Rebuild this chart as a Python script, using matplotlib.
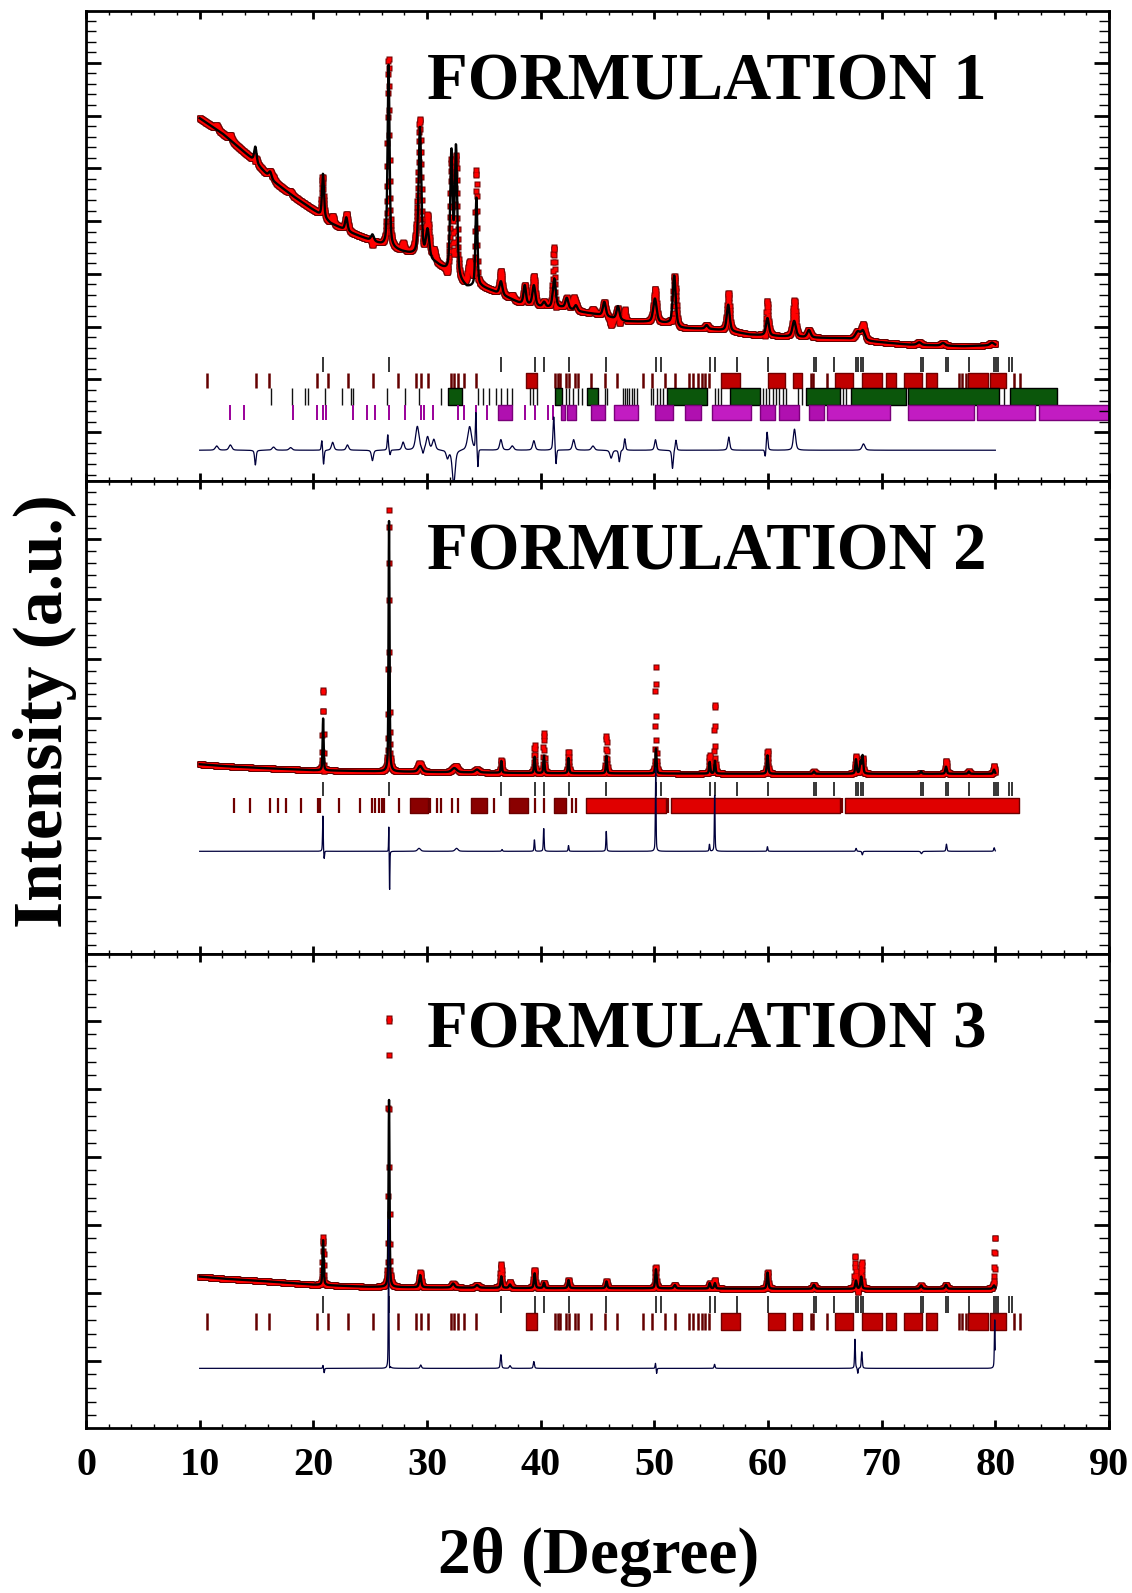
import numpy as np
import matplotlib
matplotlib.use("Agg")
import matplotlib.pyplot as plt
from matplotlib.ticker import MultipleLocator, AutoMinorLocator

plt.rcParams['font.family'] = ['Liberation Serif', 'DejaVu Serif']
plt.rcParams['font.weight'] = 'bold'

# ---------------------------------------------------------------- scan grid
scan_start, scan_end, scan_step = 10.0, 80.0, 0.02

# ---------------------------------------------------------------- axis ticks
x_major_ticks = [0, 10, 20, 30, 40, 50, 60, 70, 80, 90]
x_tick_labels = ['0', '10', '20', '30', '40', '50', '60', '70', '80', '90']
panel_titles = ['FORMULATION 1', 'FORMULATION 2', 'FORMULATION 3']

# ---------------------------------------------------------------- FORMULATION 1
f1_bg_2theta = [10, 12, 14.5, 16.5, 18.3, 20.2, 21.5, 23.4, 26.0, 27.8, 28.8, 30.7, 31.5,
                33.5, 34.8, 35.7, 37.2, 38.1, 40.3, 41.9, 43.5, 45.0, 47.5, 49.4, 51.3,
                52.3, 54.5, 56.1, 58.4, 61.0, 64.2, 66.8, 69.1, 72.4, 77.2, 80.0]
f1_bg_int = [5.95, 5.66, 5.2, 4.75, 4.46, 4.18, 3.96, 3.77, 3.55, 3.42, 3.36, 3.2, 3.08,
             2.74, 2.75, 2.68, 2.54, 2.45, 2.36, 2.36, 2.28, 2.23, 2.1, 2.09, 2.06,
             1.97, 1.96, 1.93, 1.85, 1.82, 1.79, 1.78, 1.72, 1.66, 1.63, 1.65]
f1_peak_pos = [14.9, 16.2, 20.85, 22.9, 25.2, 26.62, 29.38, 30.05, 32.15, 32.55, 34.35,
               36.5, 38.6, 39.4, 40.3, 41.2, 42.3, 43.1, 45.6, 46.8, 50.05, 51.75, 54.6,
               56.5, 59.95, 62.3, 63.6, 67.9, 68.35, 73.3, 75.4, 79.7]
f1_peak_height = [0.3, 0.12, 0.83, 0.25, 0.12, 3.45, 2.45, 0.55, 2.3, 2.45, 1.7,
                  0.25, 0.35, 0.38, 0.1, 0.55, 0.2, 0.1, 0.27, 0.25, 0.45, 0.95, 0.07,
                  0.5, 0.33, 0.3, 0.14, 0.15, 0.17, 0.05, 0.05, 0.05]
f1_peak_fwhm = [0.25, 0.3, 0.2, 0.25, 0.3, 0.2, 0.28, 0.35, 0.25, 0.25, 0.2,
                0.3, 0.25, 0.3, 0.3, 0.3, 0.3, 0.3, 0.3, 0.3, 0.35, 0.3, 0.3,
                0.3, 0.3, 0.35, 0.35, 0.5, 0.4, 0.4, 0.4, 0.4]
f1_misfit_pos = [11.5, 12.7, 14.9, 16.5, 18.0, 20.75, 20.9, 21.7, 23.0, 25.2, 26.55, 26.75,
                 27.9, 29.15, 29.65, 30.05, 30.6, 31.8, 32.35, 33.75, 34.3, 34.48, 36.5,
                 37.5, 39.4, 41.15, 41.35, 42.9, 44.6, 46.2, 46.92, 47.4, 50.1, 51.6, 51.9,
                 56.55, 59.76, 59.92, 62.33, 68.4]
f1_misfit_amp = [0.08, 0.1, -0.28, 0.06, 0.05, 0.2, -0.28, 0.15, 0.1, -0.2, 0.3, -0.1,
                 0.15, 0.45, -0.1, 0.25, 0.2, -0.15, -0.65, 0.45, 0.7, -0.35, 0.2,
                 0.08, 0.18, 0.65, -0.3, 0.2, 0.08, -0.15, -0.22, 0.22, 0.2, -0.35, 0.2,
                 0.25, -0.15, 0.35, 0.4, 0.12]
f1_misfit_fwhm = [0.3, 0.3, 0.15, 0.3, 0.3, 0.12, 0.12, 0.25, 0.25, 0.2, 0.12, 0.12,
                  0.25, 0.35, 0.15, 0.3, 0.3, 0.25, 0.3, 0.4, 0.1, 0.1, 0.25,
                  0.3, 0.25, 0.15, 0.12, 0.25, 0.3, 0.25, 0.15, 0.15, 0.2, 0.15, 0.15,
                  0.2, 0.12, 0.15, 0.25, 0.3]

# ---------------------------------------------------------------- FORMULATION 2
f2_bg_2theta = [10, 12, 15, 20, 26, 30, 40, 60, 80]
f2_bg_int = [2.23, 2.2, 2.17, 2.13, 2.11, 2.1, 2.08, 2.07, 2.07]
f2_peak_pos = [20.86, 26.66, 29.4, 32.4, 34.4, 36.54, 39.47, 40.29, 42.45, 45.79, 50.14,
               54.87, 55.33, 59.96, 64.04, 67.74, 68.14, 68.32, 73.47, 75.66, 77.67, 79.88]
f2_peak_height = [0.87, 4.2, 0.1, 0.07, 0.05, 0.2, 0.28, 0.3, 0.26, 0.3, 0.42,
                  0.2, 0.22, 0.31, 0.04, 0.24, 0.2, 0.3, 0.04, 0.12, 0.04, 0.07]
f2_peak_fwhm = [0.1, 0.1, 0.4, 0.5, 0.4, 0.12, 0.12, 0.12, 0.12, 0.12, 0.12,
                0.12, 0.12, 0.14, 0.15, 0.14, 0.14, 0.14, 0.15, 0.15, 0.15, 0.15]
f2_misfit_pos = [20.84, 20.95, 26.64, 26.71, 29.3, 32.6, 36.6, 39.45, 40.27, 42.45, 45.77,
                 50.12, 54.85, 55.31, 59.95, 67.75, 68.3, 73.5, 75.7, 79.9]
f2_misfit_amp = [0.6, -0.15, 0.45, -0.75, 0.05, 0.05, 0.03, 0.2, 0.4, 0.1, 0.35,
                 1.4, 0.12, 1.0, 0.08, 0.05, -0.06, -0.04, 0.12, 0.06]
f2_misfit_fwhm = [0.07, 0.08, 0.05, 0.05, 0.3, 0.3, 0.1, 0.08, 0.08, 0.08, 0.08,
                  0.07, 0.08, 0.07, 0.08, 0.1, 0.1, 0.15, 0.1, 0.1]

# ---------------------------------------------------------------- FORMULATION 3
f3_bg_2theta = [10, 12, 15, 20, 24.6, 30, 40, 46.6, 60, 80]
f3_bg_int = [1.24, 1.21, 1.18, 1.12, 1.09, 1.08, 1.07, 1.07, 1.06, 1.06]
f3_peak_pos = [20.86, 26.66, 29.4, 32.3, 34.4, 36.54, 37.3, 39.47, 40.29, 42.45, 45.79,
               50.14, 51.8, 54.87, 55.33, 59.96, 64.04, 67.74, 68.2, 73.47, 75.66, 79.88]
f3_peak_height = [0.66, 2.75, 0.18, 0.06, 0.04, 0.17, 0.05, 0.22, 0.08, 0.12, 0.1,
                  0.28, 0.05, 0.08, 0.08, 0.24, 0.06, 0.12, 0.18, 0.05, 0.06, 0.05]
f3_peak_fwhm = [0.12, 0.1, 0.2, 0.3, 0.3, 0.15, 0.2, 0.15, 0.15, 0.15, 0.15,
                0.15, 0.2, 0.15, 0.15, 0.15, 0.2, 0.15, 0.15, 0.2, 0.2, 0.2]
f3_misfit_pos = [20.85, 20.95, 26.62, 26.7, 29.45, 36.5, 37.3, 39.4, 50.1, 50.2, 55.3,
                 67.65, 67.9, 68.25, 79.95]
f3_misfit_amp = [0.05, -0.07, 2.2, -0.1, 0.05, 0.2, 0.04, 0.1, 0.08, -0.08, 0.06,
                 0.45, -0.08, 0.25, 0.75]
f3_misfit_fwhm = [0.08, 0.08, 0.06, 0.08, 0.15, 0.12, 0.15, 0.12, 0.08, 0.08, 0.1,
                  0.08, 0.08, 0.1, 0.08]

# ---------------------------------------------------------------- Bragg reflections
phase_a_ticks = [20.86, 26.64, 36.54, 39.47, 40.29, 42.45, 45.79, 50.14, 50.62, 54.87,
                 55.33, 57.24, 59.96, 64.04, 64.2, 65.79, 67.74, 67.9, 68.14, 68.32,
                 73.47, 73.6, 75.66, 75.85, 77.67, 79.88, 80.05, 80.25, 81.2, 81.5]

phase_b_ticks = [10.62, 14.96, 16.12, 20.36, 21.3, 23.03, 25.23, 27.43, 29.0, 29.47, 30.1,
                 32.14, 32.39, 32.77, 33.24, 34.34, 41.25, 41.5, 41.72, 42.19, 42.5,
                 42.98, 43.29, 44.45, 45.7, 46.75, 49.0, 49.8, 50.9, 51.8, 53.02, 53.41,
                 53.82, 54.15, 54.47, 54.79, 63.8, 64.0, 65.2, 76.8, 77.1, 77.4, 81.6, 82.2]
phase_b_blocks = [(38.73, 39.68), (55.9, 57.5), (60.0, 61.5), (62.2, 63.0), (65.9, 67.45),
                  (68.3, 70.0), (70.35, 71.3), (71.95, 73.55), (73.9, 74.85),
                  (77.6, 79.35), (79.5, 80.95)]

phase_c_ticks = [16.28, 18.16, 19.26, 19.57, 20.99, 22.56, 23.35, 23.5, 26.48, 28.05,
                 29.31, 31.2, 34.49, 34.97, 35.44, 36.06, 36.54, 37.01, 37.48, 39.05,
                 39.36, 39.68, 42.19, 42.5, 42.82, 43.29, 43.6, 45.64, 45.8, 47.2, 47.4,
                 47.6, 47.8, 48.0, 48.2, 48.45, 49.7, 49.9, 50.2, 50.5, 50.8, 55.3, 55.6,
                 55.9, 59.6, 59.85, 60.1, 60.4, 60.7, 61.0, 61.3, 61.6, 62.65, 62.95,
                 66.6, 66.9, 80.8]
phase_c_blocks = [(31.82, 33.08), (41.25, 41.88), (44.07, 45.02), (51.1, 54.6),
                  (56.7, 59.3), (63.3, 66.3), (67.3, 72.1), (72.3, 80.3), (81.3, 85.4)]

phase_d_ticks = [12.67, 13.92, 18.22, 20.36, 20.83, 21.14, 23.5, 24.76, 25.39, 26.64,
                 28.05, 29.47, 29.78, 30.57, 32.77, 33.24, 34.34, 35.28, 38.58, 39.52,
                 40.62, 41.09]
phase_d_blocks = [(36.22, 37.48), (41.75, 42.1), (42.35, 43.13), (44.39, 45.64),
                  (46.43, 48.6), (50.1, 51.6), (52.7, 54.1), (55.1, 58.5), (59.3, 60.6),
                  (61.0, 62.7), (63.6, 64.9), (65.2, 70.7), (72.3, 78.1), (78.4, 83.5),
                  (83.8, 90.0)]

phase_e_ticks = [13.0, 14.45, 16.2, 16.9, 17.6, 18.9, 20.4, 20.6, 22.3, 24.1, 25.2, 25.4,
                 25.8, 26.0, 26.2, 27.5, 30.3, 30.9, 31.2, 32.2, 32.7, 35.9, 39.5, 40.3,
                 42.8, 43.1, 51.2, 66.5]
phase_e_blocks = [(28.5, 30.1), (33.9, 35.3), (37.2, 38.9), (41.2, 42.2), (44.0, 51.0),
                  (51.45, 66.35), (66.75, 82.1)]


def pseudo_voigt(x, centre, height, fwhm, eta=0.5):
    u = (x - centre) / (fwhm / 2.0)
    return height * (eta / (1.0 + u ** 2) + (1.0 - eta) * np.exp(-np.log(2.0) * u ** 2))


def peak_sum(x, pos, amp, fwhm):
    total = np.zeros_like(x)
    for c, a, w in zip(pos, amp, fwhm):
        total += pseudo_voigt(x, c, a, w)
    return total


two_theta = np.arange(scan_start, scan_end + scan_step / 2, scan_step)

# row: (ticks, blocks, y0, y1, tick colour, wide-block face, narrow-block face, edge, tick width)
panels = [
    dict(bg=(f1_bg_2theta, f1_bg_int), peaks=(f1_peak_pos, f1_peak_height, f1_peak_fwhm),
         misfit=(f1_misfit_pos, f1_misfit_amp, f1_misfit_fwhm), diff_offset=-0.34,
         ylim=(-0.923, 7.98),
         rows=[(phase_a_ticks, [], 1.15, 1.43, 'k', None, None, None, 1.1),
               (phase_b_ticks, phase_b_blocks, 0.84, 1.12, '#640000', '#e80000', '#c00000', '#700000', 1.8),
               (phase_c_ticks, phase_c_blocks, 0.52, 0.84, '#111111', '#0b560b', '#0b560b', '#000000', 1.0),
               (phase_d_ticks, phase_d_blocks, 0.24, 0.52, '#9a009a', '#c21cc2', '#b010b0', '#7a007a', 1.4)]),
    dict(bg=(f2_bg_2theta, f2_bg_int), peaks=(f2_peak_pos, f2_peak_height, f2_peak_fwhm),
         misfit=(f2_misfit_pos, f2_misfit_amp, f2_misfit_fwhm), diff_offset=0.77,
         ylim=(-0.944, 6.98),
         rows=[(phase_a_ticks, [], 1.69, 1.94, 'k', None, None, None, 1.1),
               (phase_e_ticks, phase_e_blocks, 1.41, 1.66, '#700000', '#e00000', '#8a0000', '#6a0000', 1.6)]),
    dict(bg=(f3_bg_2theta, f3_bg_int), peaks=(f3_peak_pos, f3_peak_height, f3_peak_fwhm),
         misfit=(f3_misfit_pos, f3_misfit_amp, f3_misfit_fwhm), diff_offset=-0.11,
         ylim=(-0.987, 5.99),
         rows=[(phase_a_ticks, [], 0.71, 0.95, 'k', None, None, None, 1.1),
               (phase_b_ticks, phase_b_blocks, 0.46, 0.70, '#640000', '#e80000', '#c00000', '#700000', 1.8)]),
]

fig = plt.figure(figsize=(11.32, 15.93), dpi=100)
left, width = 86 / 1132, 1023 / 1132
boxes = [(11, 481), (481, 953.5), (953.5, 1428)]
title_baselines = [99, 570, 1047.5]

for i, (p, (top_px, bot_px)) in enumerate(zip(panels, boxes)):
    ax = fig.add_axes([left, 1 - bot_px / 1593, width, (bot_px - top_px) / 1593])
    calc = np.interp(two_theta, *p['bg']) + peak_sum(two_theta, *p['peaks'])
    misfit = peak_sum(two_theta, *p['misfit'])
    obs = calc + misfit
    diff = misfit + p['diff_offset']

    # Bragg reflection markers: single reflections as bars, unresolved runs as blocks
    for ticks, blocks, y0, y1, tcol, wide_col, narrow_col, ecol, lw in p['rows']:
        ax.vlines(ticks, y0, y1, colors=tcol, lw=lw, zorder=1)
        if blocks:
            faces = [wide_col if (b - a) > 2.0 else narrow_col for a, b in blocks]
            ax.broken_barh([(a, b - a) for a, b in blocks], (y0, y1 - y0),
                           facecolors=faces, edgecolors=ecol, lw=1.0, zorder=1)

    # observed points: dark rim under a bright red core
    ax.plot(two_theta, obs, ls='none', marker='s', ms=4.6, mfc='#6a0000',
            mec='none', zorder=2)
    ax.plot(two_theta, obs, ls='none', marker='s', ms=3.0, mfc='#ff0000',
            mec='none', zorder=2.1)
    ax.plot(two_theta, calc, color='k', lw=1.7, zorder=3)
    ax.plot(two_theta, diff, color='#00003c', lw=0.9, zorder=4)

    ax.set_xlim(0, 90)
    ax.set_ylim(*p['ylim'])
    ax.xaxis.set_major_locator(MultipleLocator(10))
    ax.xaxis.set_minor_locator(MultipleLocator(2))
    ax.yaxis.set_major_locator(MultipleLocator(1))
    ax.yaxis.set_minor_locator(AutoMinorLocator(5))
    ax.tick_params(axis='x', which='major', direction='in', top=True, bottom=True,
                   length=5.5, width=2.0, labelsize=29, pad=14)
    ax.tick_params(axis='x', which='minor', direction='in', top=True, bottom=True,
                   length=3.0, width=1.0)
    ax.tick_params(axis='y', which='major', direction='in', left=True, right=True,
                   length=11, width=2.0, labelleft=False)
    ax.tick_params(axis='y', which='minor', direction='in', left=True, right=True,
                   length=7.5, width=1.0)
    for s in ax.spines.values():
        s.set_linewidth(2.0)
    if i < 2:
        ax.tick_params(axis='x', labelbottom=False)
    else:
        ax.set_xticks(x_major_ticks)
        ax.set_xticklabels(x_tick_labels, fontweight='bold')

    fig.text(427 / 1132, 1 - title_baselines[i] / 1593, panel_titles[i],
             fontsize=48, fontweight='bold', ha='left', va='baseline')

fig.text(599 / 1132, 1 - 1573 / 1593, '2θ (Degree)', fontsize=47, fontweight='bold',
         ha='center', va='baseline')
fig.text(45 / 1132, 1 - 711 / 1593, 'Intensity (a.u.)', fontsize=50, fontweight='bold',
         ha='center', va='center', rotation=90)

fig.savefig('out.png', dpi=100)
